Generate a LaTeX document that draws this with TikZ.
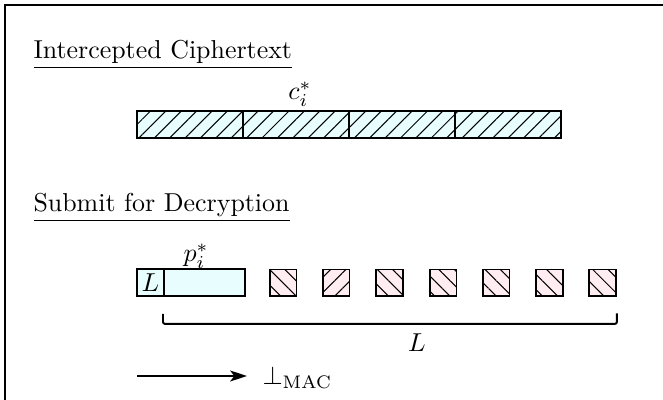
\documentclass[tikz,border=0pt]{standalone}
\usetikzlibrary{patterns.meta,arrows.meta,calc}
\definecolor{ctfill}{RGB}{232,254,254}
\definecolor{tagfill}{RGB}{255,237,242}
\tikzset{
  frameline/.style={line width=0.8pt},
  heading/.style={anchor=base west, inner sep=0pt},
  blockbox/.style={draw, line width=0.75pt, inner sep=0pt, minimum height=10.4pt},
  ctblock/.style={blockbox, fill=ctfill, minimum width=40.9pt,
    postaction={pattern={Lines[angle=45,distance=4.2pt,line width=0.4pt]}}},
  plainblock/.style={blockbox, fill=ctfill},
  tagNE/.style={blockbox, fill=tagfill, minimum width=10.4pt,
    postaction={pattern={Lines[angle=45,distance=4.2pt,line width=0.4pt]}}},
  tagNW/.style={blockbox, fill=tagfill, minimum width=10.4pt,
    postaction={pattern={Lines[angle=-45,distance=4.2pt,line width=0.4pt]}}},
  bracket/.style={line width=0.75pt, rounded corners=0.8pt},
  arrowline/.style={line width=0.75pt, -{Stealth[length=6.5pt,width=4.2pt,inset=1.6pt]}}
}
\begin{document}
\begin{tikzpicture}[x=0.386pt,y=-0.386pt]
  \useasboundingbox (0,0) rectangle (663,400);
  % outer frame (only its top and left edges fall inside the page)
  \draw[frameline] (5,430) -- (5,5) -- (690,5);

  % intercepted ciphertext
  \node[heading] (h1) at (33,59) {\underline{Intercepted Ciphertext}};
  \node[ctblock] (c1) at (190,124.5) {};
  \node[ctblock] (c2) at (296,124.5) {};
  \node[ctblock] (c3) at (402,124.5) {};
  \node[ctblock] (c4) at (508,124.5) {};
  \node[anchor=base, inner sep=0pt] (clab) at (300,100) {$c_i^*$};

  % forged submission
  \node[heading] (h2) at (33,212) {\underline{Submit for Decryption}};
  \node[plainblock, minimum width=10.4pt] (lbox) at (150.5,282.5) {$L$};
  \node[plainblock, minimum width=31.3pt] (pbox) at (204.5,282.5) {};
  \node[anchor=base west, inner sep=0pt] (plab) at (183,262) {$p_i^*$};
  \node[tagNW] (s1) at (283,283) {};
  \node[tagNE] (s2) at (336,283) {};
  \node[tagNW] (s3) at (389.5,283) {};
  \node[tagNW] (s4) at (443,283) {};
  \node[tagNW] (s5) at (496,283) {};
  \node[tagNW] (s6) at (549.5,283) {};
  \node[tagNW] (s7) at (602.5,283) {};

  % length bracket
  \draw[bracket] ($(pbox.south west)+(0,17)$) -- ++(0,10) -| ($(s7.south east)+(0,16)$);
  \node (llab) at (417,343) {$L$};

  % rejection
  \coordinate (astart) at (137,376);
  \node[anchor=base west, inner sep=0pt] (rej) at (262,385) {$\perp_{\mathrm{MAC}}$};
  \draw[arrowline] (astart) -- ($(rej.west |- astart)+(-15,0)$);
\end{tikzpicture}
\end{document}
